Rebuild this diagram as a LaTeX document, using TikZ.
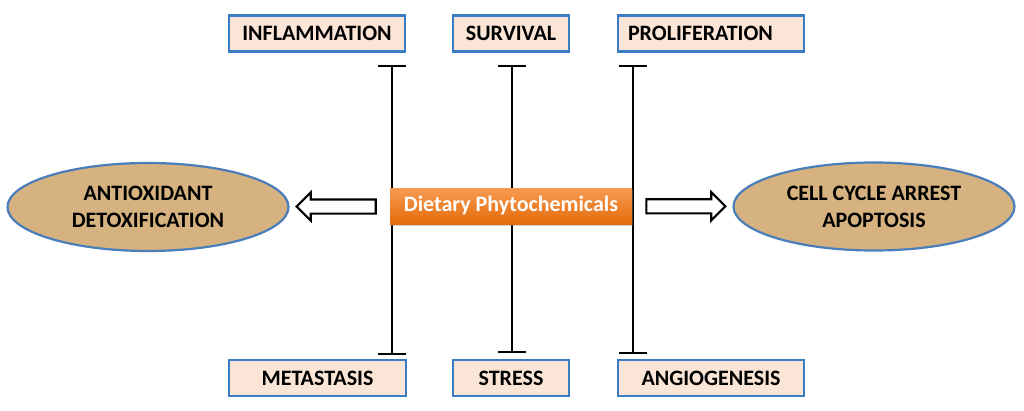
\documentclass[tikz,border=0pt]{standalone}
\usepackage{fontspec}
\setmainfont{Carlito}
\usetikzlibrary{shapes.arrows,shapes.geometric,shadows,calc,arrows.meta}
\definecolor{boxfill}{HTML}{FBE5D6}
\definecolor{boxline}{HTML}{3A7DC4}
\definecolor{ellfill}{HTML}{D5B27F}
\definecolor{ellline}{HTML}{4A7EBB}
\definecolor{orTop}{HTML}{F79A52}
\definecolor{orBot}{HTML}{E46C0A}
\begin{document}
\begin{tikzpicture}[x=1pt,y=-1pt,
  lab/.style={draw=boxline, line width=2.8pt, fill=boxfill, inner sep=0pt,
    minimum height=36pt, font=\fontsize{22}{26}\selectfont\bfseries, text=black},
  oval/.style={ellipse, draw=ellline, line width=2.2pt, fill=ellfill, inner sep=0pt,
    minimum width=281pt, minimum height=88pt, align=center,
    font=\fontsize{22}{27}\selectfont\bfseries, text=black},
  core/.style={rectangle, inner sep=0pt, minimum width=242pt, minimum height=36pt,
    top color=orTop, bottom color=orBot, text=white,
    font=\fontsize{22}{26}\selectfont\bfseries,
    drop shadow={shadow xshift=1pt, shadow yshift=-2pt, opacity=0.35}},
  inh/.style={line width=2.4pt, {Bar[width=28pt]}-{Bar[width=28pt]}},
  blk/.style={single arrow, draw=black, fill=white, line width=2.2pt,
    inner xsep=0pt, inner ysep=6pt,
    single arrow head extend=7pt, minimum height=79pt}]
\useasboundingbox (0,0) rectangle (1024,410);

% top boxes
\node[lab, minimum width=176pt] (infl) at (317,33.5) {INFLAMMATION};
\node[lab, minimum width=116pt] (surv) at (511,33.5) {SURVIVAL};
\node[lab, minimum width=186pt, text width=166pt, align=left] (prol) at (711,33.5) {PROLIFERATION};
% bottom boxes
\node[lab, minimum width=177pt] (meta) at (317.5,378) {METASTASIS};
\node[lab, minimum width=116pt] (stre) at (511,378) {STRESS};
\node[lab, minimum width=186pt] (angi) at (711,378) {ANGIOGENESIS};

% inhibition lines
\coordinate (t1) at (392,65);  \coordinate (b1) at (392,355);
\coordinate (t2) at (512,65);  \coordinate (b2) at (512,353);
\coordinate (t3) at (633,65);  \coordinate (b3) at (633,354);
\draw[inh] (t1) -- (b1);
\draw[inh] (t2) -- (b2);
\draw[inh] (t3) -- (b3);

% centre
\node[core] (ctr) at (511,206) {Dietary Phytochemicals};

% ellipses
\node[oval] (lell) at (148,207) {ANTIOXIDANT\\DETOXIFICATION};
\node[oval] (rell) at (874,206.5) {CELL CYCLE ARREST\\APOPTOSIS};

% block arrows
\node[blk, shape border rotate=180] (la) at ($(ctr.west)!0.5!(lell.east)$) {};
\node[blk] (ra) at ($(ctr.east)!0.5!(rell.west)$) {};
\end{tikzpicture}
\end{document}
